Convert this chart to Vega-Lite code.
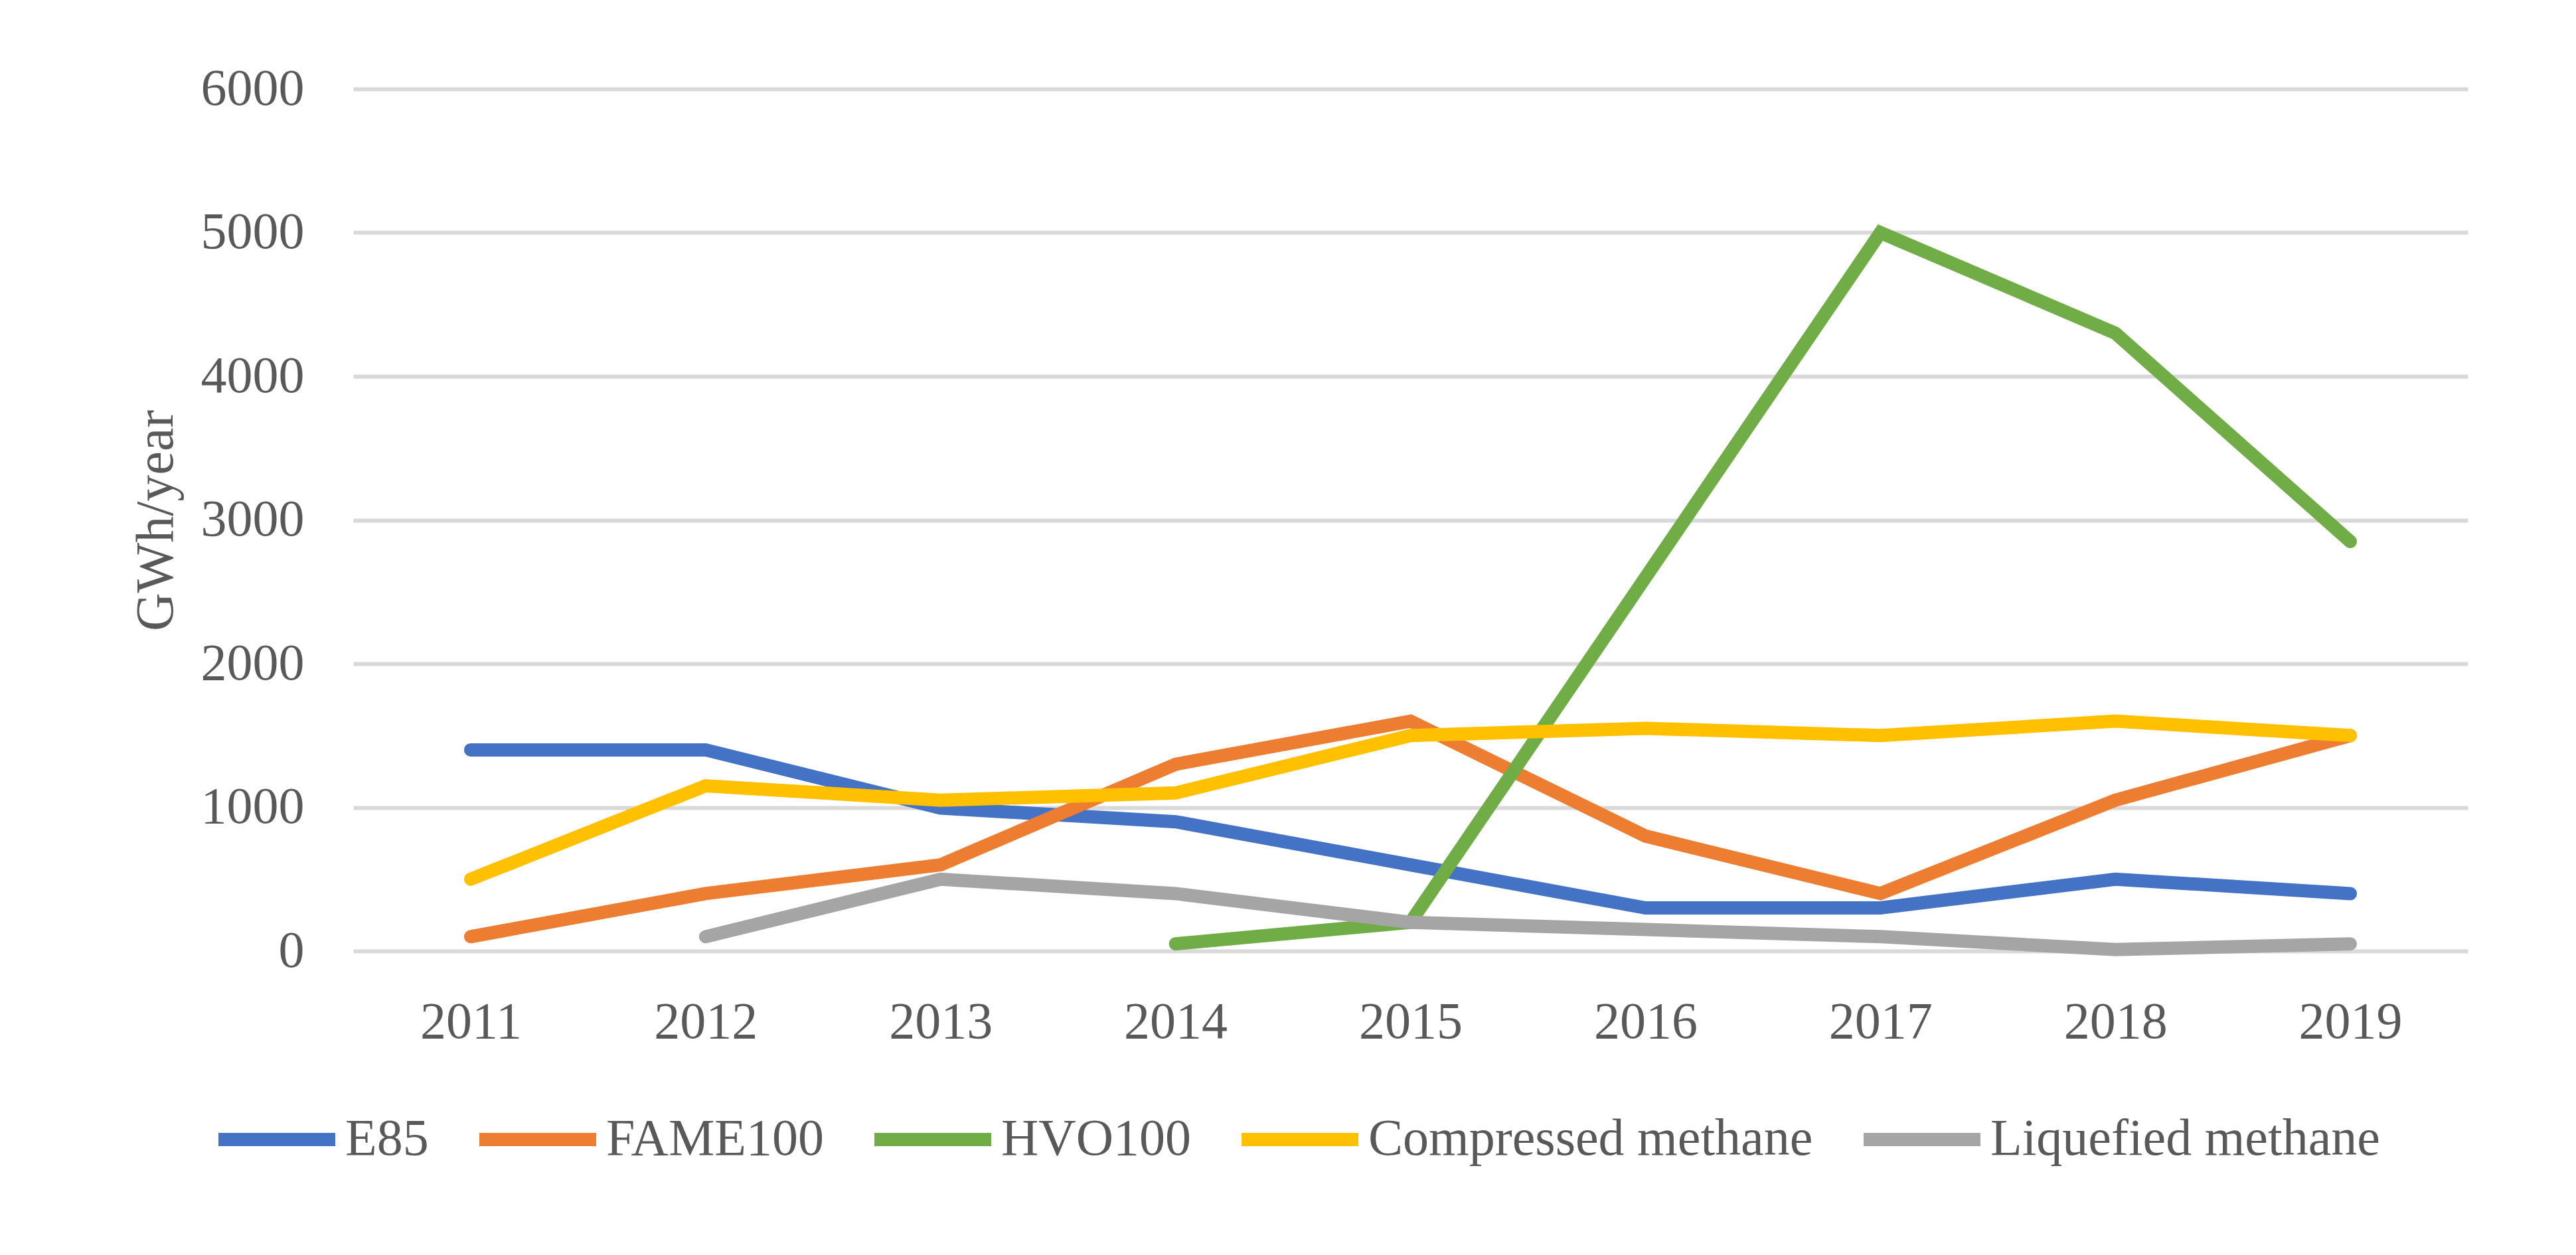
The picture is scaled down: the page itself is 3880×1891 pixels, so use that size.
{
  "$schema": "https://vega.github.io/schema/vega-lite/v6.json",
  "autosize": "none",
  "width": 3185,
  "height": 1299,
  "padding": {"left": 532, "top": 134, "right": 163, "bottom": 458},
  "background": "white",
  "config": {
    "view": {"stroke": null},
    "font": "Liberation Serif"
  },
  "data": {
    "values": [
      {"year": "2011", "series": "E85", "value": 1400},
      {"year": "2012", "series": "E85", "value": 1400},
      {"year": "2013", "series": "E85", "value": 995},
      {"year": "2014", "series": "E85", "value": 900},
      {"year": "2015", "series": "E85", "value": 600},
      {"year": "2016", "series": "E85", "value": 300},
      {"year": "2017", "series": "E85", "value": 300},
      {"year": "2018", "series": "E85", "value": 500},
      {"year": "2019", "series": "E85", "value": 400},
      {"year": "2011", "series": "FAME100", "value": 100},
      {"year": "2012", "series": "FAME100", "value": 400},
      {"year": "2013", "series": "FAME100", "value": 600},
      {"year": "2014", "series": "FAME100", "value": 1300},
      {"year": "2015", "series": "FAME100", "value": 1600},
      {"year": "2016", "series": "FAME100", "value": 800},
      {"year": "2017", "series": "FAME100", "value": 400},
      {"year": "2018", "series": "FAME100", "value": 1050},
      {"year": "2019", "series": "FAME100", "value": 1500},
      {"year": "2014", "series": "HVO100", "value": 50},
      {"year": "2015", "series": "HVO100", "value": 200},
      {"year": "2016", "series": "HVO100", "value": 2600},
      {"year": "2017", "series": "HVO100", "value": 5000},
      {"year": "2018", "series": "HVO100", "value": 4300},
      {"year": "2019", "series": "HVO100", "value": 2850},
      {"year": "2011", "series": "Compressed methane", "value": 500},
      {"year": "2012", "series": "Compressed methane", "value": 1150},
      {"year": "2013", "series": "Compressed methane", "value": 1050},
      {"year": "2014", "series": "Compressed methane", "value": 1100},
      {"year": "2015", "series": "Compressed methane", "value": 1500},
      {"year": "2016", "series": "Compressed methane", "value": 1550},
      {"year": "2017", "series": "Compressed methane", "value": 1500},
      {"year": "2018", "series": "Compressed methane", "value": 1600},
      {"year": "2019", "series": "Compressed methane", "value": 1500},
      {"year": "2012", "series": "Liquefied methane", "value": 100},
      {"year": "2013", "series": "Liquefied methane", "value": 500},
      {"year": "2014", "series": "Liquefied methane", "value": 400},
      {"year": "2015", "series": "Liquefied methane", "value": 200},
      {"year": "2016", "series": "Liquefied methane", "value": 150},
      {"year": "2017", "series": "Liquefied methane", "value": 100},
      {"year": "2018", "series": "Liquefied methane", "value": 10},
      {"year": "2019", "series": "Liquefied methane", "value": 50}
    ]
  },
  "mark": {"type": "line", "strokeWidth": 20, "strokeCap": "round"},
  "encoding": {
    "x": {
      "field": "year",
      "type": "ordinal",
      "scale": {"type": "point", "padding": 0.5},
      "axis": {
        "title": null,
        "labelAngle": 0,
        "labelFontSize": 78,
        "labelColor": "#595959",
        "labelPadding": 68,
        "ticks": false,
        "domain": false,
        "grid": false
      }
    },
    "y": {
      "field": "value",
      "type": "quantitative",
      "scale": {"domain": [0, 6000], "nice": false},
      "axis": {
        "title": "GWh/year",
        "titleFontSize": 80,
        "titleFontWeight": "normal",
        "titleColor": "#595959",
        "titleAngle": -90,
        "titleX": -297,
        "titleY": 650,
        "titleAlign": "center",
        "titleBaseline": "middle",
        "values": [0, 1000, 2000, 3000, 4000, 5000, 6000],
        "format": "d",
        "labelFontSize": 78,
        "labelColor": "#595959",
        "labelPadding": 74,
        "ticks": false,
        "domain": false,
        "grid": true,
        "gridColor": "#D9D9D9",
        "gridWidth": 6
      }
    },
    "color": {
      "field": "series",
      "type": "nominal",
      "scale": {
        "domain": ["E85", "FAME100", "HVO100", "Compressed methane", "Liquefied methane"],
        "range": ["#4472C4", "#ED7D31", "#70AD47", "#FFC000", "#A5A5A5"]
      },
      "legend": {
        "title": null,
        "orient": "none",
        "direction": "horizontal",
        "legendX": -213,
        "legendY": 1485,
        "symbolType": "stroke",
        "symbolSize": 30976,
        "symbolStrokeWidth": 20,
        "labelFontSize": 78,
        "labelColor": "#595959",
        "labelOffset": 5,
        "labelLimit": 2000,
        "columnPadding": 36
      }
    }
  }
}
